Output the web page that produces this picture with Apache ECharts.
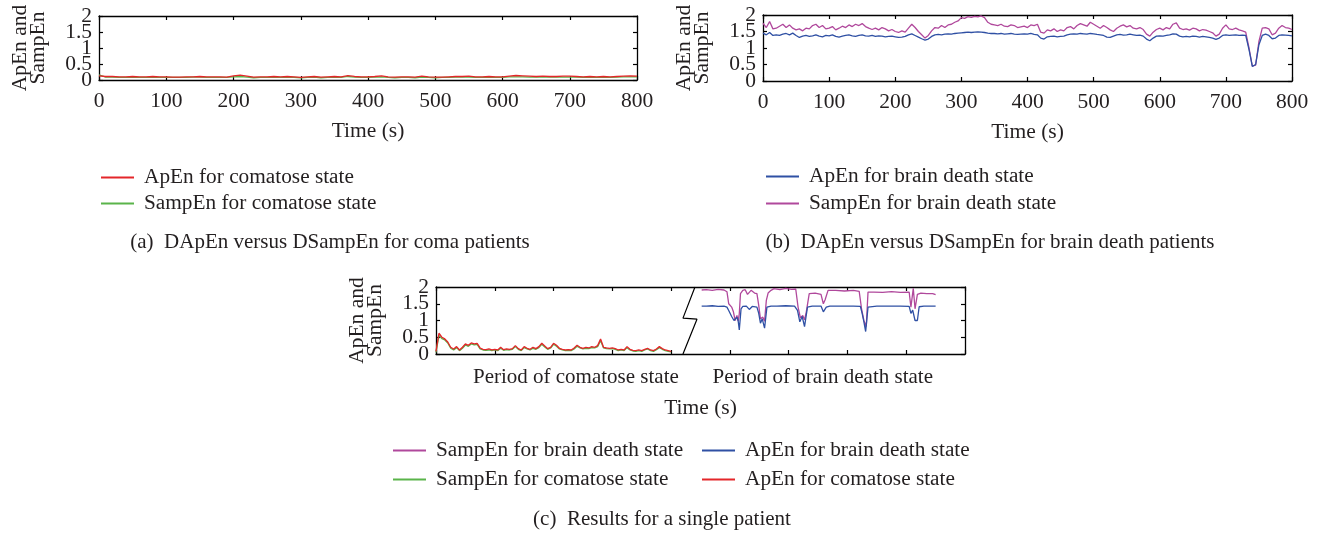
<!DOCTYPE html>
<html><head><meta charset="utf-8">
<script src="https://cdn.jsdelivr.net/npm/echarts@6/dist/echarts.min.js"></script>
<style>html,body{margin:0;padding:0;background:#fff}#c{width:1321px;height:535px}</style>
</head><body><div id="c"></div>
<script>
// ---------------- DATA ----------------
// Panel (a): coma patients, sampled every 10 s from 0 to 800 s
const STEP_A = 10;
const apenComaA = [
0.13,0.11,0.11,0.1,0.1,0.11,0.1,0.1,0.11,0.1,
0.1,0.09,0.09,0.1,0.1,0.11,0.1,0.1,0.1,0.09,
0.13,0.15,0.12,0.09,0.1,0.1,0.11,0.1,0.11,0.1,
0.08,0.1,0.11,0.09,0.1,0.11,0.1,0.14,0.11,0.1,
0.1,0.11,0.13,0.1,0.09,0.1,0.1,0.09,0.12,0.1,
0.09,0.09,0.1,0.11,0.11,0.12,0.1,0.1,0.11,0.1,
0.1,0.12,0.14,0.13,0.12,0.11,0.12,0.11,0.11,0.12,
0.12,0.11,0.1,0.11,0.1,0.11,0.1,0.11,0.12,0.13,
0.12];
const sampenComaA = [
0.16,0.09,0.09,0.08,0.08,0.09,0.08,0.08,0.09,0.08,
0.08,0.08,0.08,0.08,0.09,0.09,0.08,0.08,0.08,0.08,
0.1,0.11,0.09,0.07,0.08,0.08,0.09,0.08,0.09,0.08,
0.07,0.08,0.09,0.07,0.08,0.08,0.08,0.11,0.09,0.08,
0.08,0.09,0.1,0.08,0.07,0.08,0.08,0.07,0.09,0.08,
0.07,0.08,0.08,0.09,0.09,0.09,0.08,0.08,0.09,0.08,
0.08,0.1,0.1,0.1,0.09,0.09,0.09,0.09,0.09,0.09,
0.09,0.09,0.08,0.09,0.08,0.09,0.08,0.09,0.1,0.1,
0.1];
// Panel (b): brain death patients, sampled every 5 s from 0 to 800 s
const STEP_B = 5;
const sampenBdB = [
1.75,1.62,1.8,1.58,1.6,1.66,1.72,1.62,1.7,1.6,
1.55,1.58,1.52,1.6,1.58,1.68,1.72,1.62,1.68,1.58,
1.6,1.65,1.55,1.6,1.66,1.62,1.7,1.65,1.72,1.68,
1.74,1.65,1.6,1.56,1.6,1.55,1.62,1.58,1.52,1.56,
1.5,1.47,1.52,1.48,1.6,1.72,1.62,1.5,1.4,1.3,
1.38,1.52,1.62,1.6,1.68,1.62,1.7,1.72,1.78,1.82,
1.92,1.9,1.95,1.93,1.96,1.94,1.97,1.92,1.78,1.72,
1.7,1.68,1.72,1.66,1.65,1.7,1.68,1.62,1.64,1.66,
1.62,1.7,1.68,1.72,1.48,1.45,1.55,1.52,1.58,1.5,
1.55,1.52,1.62,1.65,1.58,1.68,1.74,1.7,1.66,1.78,
1.72,1.66,1.6,1.68,1.62,1.55,1.5,1.6,1.66,1.7,
1.64,1.68,1.6,1.58,1.62,1.56,1.42,1.36,1.48,1.56,
1.6,1.55,1.62,1.58,1.72,1.76,1.6,1.56,1.58,1.54,
1.6,1.58,1.52,1.56,1.54,1.5,1.46,1.36,1.42,1.6,
1.7,1.58,1.56,1.6,1.55,1.52,1.48,1.0,0.45,0.48,
1.2,1.6,1.62,1.58,1.4,1.45,1.6,1.68,1.62,1.6,
1.56];
const apenBdB = [
1.45,1.4,1.47,1.38,1.4,1.38,1.42,1.44,1.4,1.45,
1.38,1.32,1.36,1.38,1.35,1.37,1.4,1.36,1.34,1.38,
1.37,1.4,1.35,1.33,1.36,1.38,1.4,1.37,1.35,1.38,
1.4,1.37,1.36,1.38,1.35,1.37,1.36,1.34,1.35,1.36,
1.34,1.32,1.33,1.35,1.4,1.43,1.38,1.33,1.28,1.24,
1.27,1.35,1.4,1.41,1.4,1.42,1.43,1.42,1.44,1.45,
1.46,1.47,1.48,1.47,1.48,1.49,1.48,1.47,1.45,1.44,
1.44,1.43,1.44,1.42,1.43,1.44,1.42,1.41,1.42,1.43,
1.42,1.44,1.41,1.4,1.3,1.27,1.34,1.35,1.36,1.34,
1.35,1.36,1.4,1.42,1.43,1.42,1.44,1.43,1.42,1.44,
1.43,1.41,1.4,1.38,1.33,1.32,1.36,1.4,1.41,1.39,
1.4,1.42,1.4,1.38,1.39,1.36,1.27,1.22,1.3,1.36,
1.37,1.36,1.38,1.4,1.43,1.42,1.36,1.34,1.35,1.34,
1.36,1.35,1.33,1.35,1.34,1.32,1.3,1.26,1.3,1.38,
1.4,1.38,1.39,1.4,1.38,1.39,1.38,0.95,0.44,0.5,
1.1,1.38,1.42,1.38,1.28,1.3,1.38,1.4,1.39,1.38,
1.37];
// Panel (c): single patient. Axis runs in "period" units; comatose part sampled every 0.05 unit from 0 to 4
const STEP_C = 0.05;
const apenComaC = [
0.08,0.62,0.5,0.45,0.36,0.2,0.15,0.22,0.12,0.2,
0.3,0.26,0.33,0.3,0.32,0.18,0.14,0.13,0.15,0.12,
0.14,0.12,0.2,0.13,0.15,0.14,0.16,0.25,0.16,0.12,
0.22,0.17,0.14,0.2,0.16,0.22,0.32,0.24,0.16,0.2,
0.32,0.26,0.17,0.14,0.12,0.13,0.12,0.18,0.26,0.2,
0.17,0.2,0.18,0.22,0.2,0.25,0.45,0.2,0.18,0.17,
0.18,0.16,0.12,0.14,0.12,0.22,0.14,0.11,0.1,0.12,
0.1,0.14,0.17,0.12,0.1,0.15,0.22,0.16,0.12,0.1,
0.08];
const sampenComaC = [
0.05,0.55,0.46,0.42,0.33,0.17,0.12,0.19,0.1,0.17,
0.27,0.23,0.3,0.27,0.29,0.15,0.12,0.11,0.12,0.1,
0.12,0.1,0.17,0.11,0.13,0.12,0.14,0.22,0.14,0.1,
0.19,0.15,0.12,0.17,0.14,0.19,0.29,0.21,0.14,0.18,
0.29,0.23,0.15,0.12,0.1,0.11,0.1,0.15,0.23,0.18,
0.15,0.17,0.16,0.19,0.18,0.22,0.4,0.18,0.16,0.15,
0.16,0.14,0.1,0.12,0.1,0.19,0.12,0.09,0.08,0.1,
0.08,0.12,0.15,0.1,0.08,0.13,0.19,0.14,0.1,0.08,
0.06];
// brain-death part: [position, value] pairs
const sampenBdC = [
[4.52,1.91],[4.6,1.92],[4.7,1.9],[4.8,1.93],[4.9,1.91],[4.95,1.86],[4.98,1.5],[5.03,1.4],[5.06,1.26],[5.09,1.0],
[5.12,1.15],[5.14,0.98],[5.16,1.2],[5.18,1.8],[5.22,1.9],[5.26,1.92],[5.3,1.78],[5.36,1.9],[5.42,1.82],[5.46,1.8],
[5.49,1.46],[5.52,1.05],[5.56,1.1],[5.59,0.98],[5.62,1.6],[5.65,1.82],[5.7,1.9],[5.75,1.95],[5.85,1.92],[5.95,1.96],
[6.05,1.93],[6.12,1.94],[6.16,1.4],[6.2,1.08],[6.24,1.15],[6.27,1.02],[6.3,1.26],[6.35,1.8],[6.45,1.82],[6.55,1.78],
[6.59,1.5],[6.62,1.62],[6.67,1.9],[6.8,1.9],[6.95,1.88],[7.1,1.9],[7.2,1.87],[7.24,1.35],[7.28,1.0],[7.32,0.82],
[7.35,1.85],[7.45,1.85],[7.6,1.84],[7.75,1.86],[7.9,1.84],[8.05,1.85],[8.08,1.4],[8.12,1.96],[8.15,1.35],[8.19,1.78],
[8.25,1.82],[8.35,1.8],[8.45,1.8],[8.5,1.77]];
const apenBdC = [
[4.52,1.43],[4.6,1.43],[4.7,1.44],[4.8,1.42],[4.9,1.43],[4.95,1.4],[4.98,1.3],[5.03,1.12],[5.07,1.0],[5.1,0.96],
[5.12,1.1],[5.14,1.0],[5.16,0.72],[5.19,1.35],[5.22,1.42],[5.28,1.43],[5.33,1.33],[5.38,1.42],[5.46,1.4],[5.49,1.22],
[5.52,0.92],[5.55,1.05],[5.59,0.77],[5.63,1.4],[5.7,1.43],[5.8,1.43],[5.95,1.44],[6.1,1.43],[6.15,1.3],[6.19,0.96],
[6.23,1.12],[6.27,0.82],[6.32,1.4],[6.4,1.43],[6.55,1.43],[6.59,1.26],[6.64,1.4],[6.7,1.43],[6.9,1.43],[7.1,1.43],
[7.22,1.42],[7.25,1.21],[7.28,0.96],[7.31,0.67],[7.35,1.4],[7.5,1.43],[7.7,1.43],[7.9,1.43],[8.05,1.42],[8.08,1.21],
[8.11,1.31],[8.15,1.0],[8.19,1.0],[8.22,1.41],[8.3,1.43],[8.4,1.43],[8.5,1.43]];
// axis-break zigzag of panel (c), in axis units
const breakMark = [[4.406,2],[4.202,1.07],[4.44,1.04],[4.202,0]];
// texts / tick labels
const yTickValues = [0, 0.5, 1, 1.5, 2];
const periodLabels = {2.38: 'Period of comatose state', 6.58: 'Period of brain death state'};
const yName = 'ApEn and\nSampEn';
const names = {
  apC: 'ApEn for comatose state', spC: 'SampEn for comatose state',
  apB: 'ApEn for brain death state', spB: 'SampEn for brain death state'
};
const captions = ['(a)  DApEn versus DSampEn for coma patients',
                  '(b)  DApEn versus DSampEn for brain death patients',
                  '(c)  Results for a single patient'];

// ---------------- STYLE ----------------
const FONT = '"Liberation Serif","Times New Roman",serif';
const TXT = '#231f20';
const COL = {apC:'#e4262a', spC:'#5ab44a', apB:'#2f50a4', spB:'#b0489c'};
const LW = 1.3;

const pairs = (vals, step) => vals.map((v, i) => [+(i * step).toFixed(4), v]);

const line = {show:true, onZero:false, lineStyle:{color:'#000', width:1.3}};
const tick = {show:true, inside:true, length:4, lineStyle:{color:'#000', width:1.2}};
const lbl = {color:TXT, fontFamily:FONT, fontSize:21.5};

function xAxes(gi, max, interval, showLabels, nameGap) {
  return [
    {type:'value', gridIndex:gi, position:'bottom', min:0, max:max, interval:interval,
     axisLine:line, axisTick:tick, splitLine:{show:false},
     axisLabel: showLabels ? Object.assign({margin:10, showMinLabel:true, showMaxLabel:true}, lbl) : {show:false},
     name:'Time (s)', nameLocation:'middle', nameGap:nameGap,
     nameTextStyle:{color:TXT, fontFamily:FONT, fontSize:21.5}},
    {type:'value', gridIndex:gi, position:'top', min:0, max:max, interval:interval,
     axisLine:line, axisTick:tick, splitLine:{show:false}, axisLabel:{show:false}}
  ];
}
function yAxes(gi) {
  return [
    {type:'value', gridIndex:gi, position:'left', min:0, max:2, interval:0.5,
     axisLine:line, axisTick:tick, splitLine:{show:false},
     axisLabel:{show:false},
     name:yName, nameLocation:'middle', nameRotate:90, nameGap:52,
     nameTextStyle:{color:TXT, fontFamily:FONT, fontSize:21.5, lineHeight:18}},
    {type:'value', gridIndex:gi, position:'right', min:0, max:2, interval:0.5,
     axisLine:line, axisTick:tick, splitLine:{show:false}, axisLabel:{show:false}},
    // label-only axes: whole numbers and halves on separate axes so none get hidden as overlapping
    {type:'value', gridIndex:gi, position:'left', min:0, max:2,
     axisLine:{show:false, onZero:false}, axisTick:{show:false}, splitLine:{show:false},
     axisLabel:Object.assign({margin:7, customValues:yTickValues.filter((v, i) => i % 2 === 0),
       showMinLabel:true, showMaxLabel:true}, lbl)},
    {type:'value', gridIndex:gi, position:'left', min:0, max:2,
     axisLine:{show:false, onZero:false}, axisTick:{show:false}, splitLine:{show:false},
     axisLabel:Object.assign({margin:7, customValues:yTickValues.filter((v, i) => i % 2 === 1),
       showMinLabel:true, showMaxLabel:true}, lbl)}
  ];
}

const xAxis = [].concat(
  xAxes(0, 800, 100, true, 40),
  xAxes(1, 800, 100, true, 40),
  xAxes(2, 9, 1, false, 43),
  [{type:'value', gridIndex:2, position:'bottom', min:0, max:9,
    axisLine:{show:false, onZero:false}, axisTick:{show:false}, splitLine:{show:false},
    axisLabel:Object.assign({}, lbl, {margin:13, fontSize:21,
      customValues:Object.keys(periodLabels).map(Number),
      formatter:v => periodLabels[v] || ''})}]
);
const yAxis = [].concat(yAxes(0), yAxes(1), yAxes(2));

function ser(name, key, data, xi, yi) {
  return {type:'line', name:name, data:data, xAxisIndex:xi, yAxisIndex:yi,
    showSymbol:false, symbol:'none', animation:false, color:COL[key],
    lineStyle:{color:COL[key], width:LW}};
}
const series = [
  ser(names.spC, 'spC', pairs(sampenComaA, STEP_A), 0, 0),
  ser(names.apC, 'apC', pairs(apenComaA, STEP_A), 0, 0),
  ser(names.spB, 'spB', pairs(sampenBdB, STEP_B), 2, 4),
  ser(names.apB, 'apB', pairs(apenBdB, STEP_B), 2, 4),
  ser(names.spC, 'spC', pairs(sampenComaC, STEP_C), 4, 8),
  ser(names.apC, 'apC', pairs(apenComaC, STEP_C), 4, 8),
  ser(names.spB, 'spB', sampenBdC, 4, 8),
  ser(names.apB, 'apB', apenBdC, 4, 8),
  {type:'line', name:'break', data:breakMark, xAxisIndex:4, yAxisIndex:8, symbol:'none',
   silent:true, animation:false, lineStyle:{color:'#000', width:1.2}, z:5}
];

function legend(items, left, top, gap) {
  return {data:items, orient:'vertical', left:left, top:top, padding:0,
    itemWidth:33, itemHeight:2, itemGap:gap, icon:'rect', selectedMode:false,
    textStyle:{color:TXT, fontFamily:FONT, fontSize:21.3, lineHeight:20, padding:[0,0,0,5]}};
}

const option = {
  backgroundColor:'#fff',
  animation:false,
  grid:[
    {left:99, top:16, width:538, height:64},
    {left:763, top:15, width:529, height:66},
    {left:436, top:287, width:529, height:67}
  ],
  xAxis:xAxis,
  yAxis:yAxis,
  series:series,
  legend:[
    legend([names.apC, names.spC], 101, 167, 5),
    legend([names.apB, names.spB], 766, 166, 6),
    legend([names.spB, names.spC], 393, 440, 8),
    legend([names.apB, names.apC], 702, 440, 8)
  ],
  graphic:[
    {type:'text', x:330, y:242, style:{text:captions[0], fill:TXT, font:'21px ' + FONT, textAlign:'center', textVerticalAlign:'middle'}},
    {type:'text', x:990, y:242, style:{text:captions[1], fill:TXT, font:'21px ' + FONT, textAlign:'center', textVerticalAlign:'middle'}},
    {type:'text', x:662, y:519, style:{text:captions[2], fill:TXT, font:'21px ' + FONT, textAlign:'center', textVerticalAlign:'middle'}}
  ]
};
const chart = echarts.init(document.getElementById('c'));
chart.setOption(option);
</script>
</body></html>
